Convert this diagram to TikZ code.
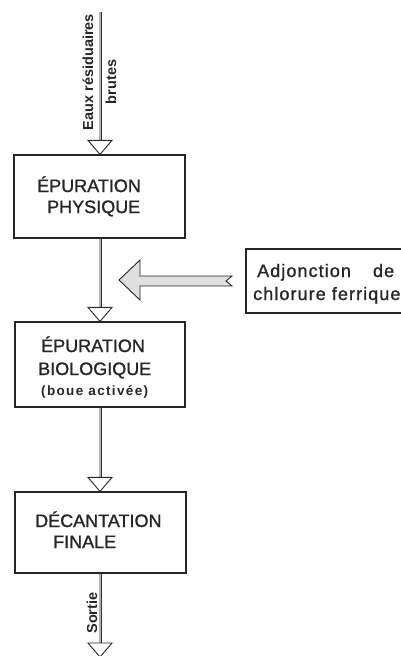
\documentclass[tikz,border=0pt]{standalone}
\usepackage{fontspec}
\setmainfont{Liberation Sans}
\newfontfamily\mainfnt[FakeBold=1.2]{Liberation Sans}
\newfontfamily\spacedfont[LetterSpace=6,FakeBold=1.2]{Liberation Sans}
\newfontfamily\widefont[LetterSpace=10]{Liberation Sans}
\begin{document}
\begin{tikzpicture}[x=1pt,y=-1pt,
  box/.style={draw=black!85, line width=1.2pt, fill=none, inner sep=0pt},
  conn/.style={draw=black!80, line width=0.6pt, double=gray!60, double distance=1.8pt},
  headtri/.style={draw=black!85, line width=0.9pt, fill=white, line join=miter},
  boxtxt/.style={anchor=base west, inner sep=0pt, font=\mainfnt\fontsize{18}{20}\selectfont, text=black!85},
  sidetxt/.style={rotate=90, inner sep=0pt, font=\bfseries\fontsize{14.5}{16}\selectfont, text=black!85},
  grayarrow/.style={draw=black!85, line width=0.9pt, fill=gray!25, line join=miter}
]
\useasboundingbox (0,0) rectangle (400,656);

% boxes
\node[box, minimum width=171pt, minimum height=83pt] (b1) at (99.5,196.5) {};
\node[box, minimum width=170pt, minimum height=85pt] (b2) at (100,364.5) {};
\node[box, minimum width=171pt, minimum height=81pt] (b3) at (100.5,532.5) {};
\node[box, minimum width=160pt, minimum height=64pt] (add) at (326,281) {};

% box texts
\node[boxtxt] (t1a) at (37,192) {ÉPURATION};
\node[boxtxt] (t1b) at (47,213) {PHYSIQUE};
\node[boxtxt] (t2a) at (41,352) {ÉPURATION};
\node[boxtxt] (t2b) at (38,375) {BIOLOGIQUE};
\node[boxtxt, font=\widefont\bfseries\fontsize{13.5}{15}\selectfont] (t2c) at (41,395) {(boue activée)};
\node[boxtxt] (t3a) at (35,527) {DÉCANTATION};
\node[boxtxt] (t3b) at (53,548) {FINALE};
\node[boxtxt, font=\spacedfont\fontsize{18}{20}\selectfont] (ta) at (257,277) {Adjonction\hspace{16pt} de};
\node[boxtxt, font=\spacedfont\fontsize{18}{20}\selectfont] (tb) at (253,300) {chlorure ferrique};

% coordinates
\coordinate (top) at (100,12);
\coordinate (h1) at (100,141);
\coordinate (h2) at (100,308);
\coordinate (h3) at (100,478);
\coordinate (h4) at (100,643);

% connectors
\draw[conn] (top) -- (h1);
\draw[conn] ([xshift=0.5pt]b1.south) -- (h2);
\draw[conn] (b2.south) -- (h3);
\draw[conn] ([xshift=-0.5pt]b3.south) -- (h4);

% open arrowheads
\draw[headtri] (b1.north -| h1) -- ++(-12,-14) -- ++(24,0) -- cycle;
\draw[headtri] (b2.north) -- ++(-12,-14) -- ++(24,0) -- cycle;
\draw[headtri] (b3.north -| h3) -- ++(-12,-14) -- ++(24,0) -- cycle;
\draw[headtri] (100,657) -- ++(-12,-14) -- ++(24,0) -- cycle;

% side labels
\node[sidetxt] (eaux) at (88,72) {Eaux résiduaires};
\node[sidetxt] (brutes) at (111,82) {brutes};
\node[sidetxt] (sortie) at (92,613) {Sortie};

% gray arrow
\draw[grayarrow] (119,280) -- (140,260) -- (140,276) -- (232,276) -- (226,281) -- (232,286) -- (140,286) -- (140,300) -- cycle;
\end{tikzpicture}
\end{document}
